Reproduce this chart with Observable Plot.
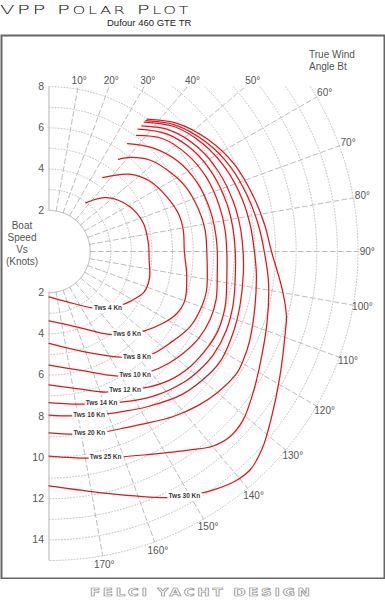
<!DOCTYPE html>
<html>
<head>
<meta charset="utf-8">
<script src="https://cdn.jsdelivr.net/npm/d3@7"></script>
<script src="https://cdn.jsdelivr.net/npm/@observablehq/plot@0.6"></script>
<style>
  html, body { margin: 0; padding: 0; background: #fff; }
  body { width: 385px; height: 600px; position: relative; overflow: hidden; font-family: "Liberation Sans", Arial, sans-serif; }
  #title { position: absolute; left: 0; top: 2px; font-family: "DejaVu Sans"; font-weight: 200; font-size: 12.5px; letter-spacing: 1.5px; color: #111; white-space: nowrap; transform-origin: 0 0; transform: scaleX(1.7); }
  #title .sc { font-size: 9.6px; }
  #sub { position: absolute; left: 107px; top: 17px; font-size: 9.5px; color: #222; white-space: nowrap; }
  #chart { position: absolute; left: 0; top: 34px; }
  #twa { position: absolute; left: 309px; top: 49px; font-size: 10px; line-height: 12px; color: #555; }
  #bs { position: absolute; left: 0; top: 220px; width: 44px; text-align: center; font-size: 10px; line-height: 12px; color: #555; }
  #foot { position: absolute; left: 90px; top: 586px; font-family: "DejaVu Sans"; font-weight: bold; font-size: 11px; letter-spacing: 2px; color: #fff; -webkit-text-stroke: 0.6px #888; white-space: nowrap; transform-origin: 0 0; transform: scaleX(1.35); }
</style>
</head>
<body>
<div id="title">VPP P<span class="sc">OLAR</span> P<span class="sc">LOT</span></div>
<div id="sub">Dufour 460 GTE TR</div>
<div id="chart"></div>
<div id="twa">True Wind<br>Angle Bt</div>
<div id="bs">Boat<br>Speed<br>Vs<br>(Knots)</div>
<div id="foot">FELCI YACHT DESIGN</div>
<script>
// ---- data: [true wind angle (deg), boat speed (kn)] per true wind speed ----
const tws4  = [[37,2.96],[47,3.83],[61,4.49],[73,4.78],[85,4.84],[95,4.88],[105,5.05],[113,5.02],[121,4.65],[127,4.35],[134,3.97],[142,3.48],[160,2.6],[180,2.2]];
const tws6  = [[36,4.43],[46,5.4],[55,5.96],[65,6.3],[74,6.55],[81,6.6],[90,6.57],[100,6.79],[110,7.01],[116,6.89],[122,6.55],[130,6.01],[137,5.51],[144,4.98],[160,3.89],[180,3.37]];
const tws8  = [[37,5.6],[41,6.05],[48,6.62],[57,7.04],[65,7.35],[74,7.54],[82,7.65],[90,7.66],[104,7.88],[110,7.88],[118,7.76],[127,7.37],[135,7.05],[140,6.67],[146,6.19],[161,5.14],[180,4.46]];
const tws10 = [[36,6.48],[45,7.12],[55,7.64],[65,7.93],[75,8.07],[83,8.13],[90,8.17],[97,8.23],[106,8.44],[113,8.49],[120,8.4],[127,8.18],[133,7.95],[140,7.62],[145,7.31],[152,6.84],[165,5.98],[180,5.52]];
const tws12 = [[37,7.06],[45,7.76],[55,8.2],[65,8.45],[75,8.56],[83,8.61],[90,8.63],[97,8.7],[107,8.95],[115,9.06],[121,9.0],[129,8.85],[137,8.55],[146,8.02],[151,7.67],[158,7.36],[167,6.86],[180,6.48]];
const tws14 = [[36,7.35],[45,8.08],[55,8.55],[65,8.8],[75,8.94],[83,9.0],[90,9.04],[96,9.1],[106,9.3],[114,9.42],[122,9.42],[128,9.3],[134,9.12],[143,8.72],[150,8.35],[155,8.07],[161,7.8],[167,7.6],[173,7.45],[180,7.34]];
const tws16 = [[36.5,7.58],[45,8.32],[55,8.82],[65,9.1],[75,9.27],[83,9.36],[90,9.42],[96,9.49],[106,9.64],[113,9.76],[122,9.88],[127,9.8],[137,9.48],[148,8.9],[155,8.56],[161,8.34],[166,8.17],[172,8.06],[180,7.94]];
const tws20 = [[36.3,7.8],[45,8.58],[55,9.12],[65,9.48],[75,9.72],[83,9.86],[90,9.97],[96,10.12],[105,10.35],[114,10.66],[119,10.8],[123,10.86],[130,10.66],[136,10.4],[143,10.03],[152,9.51],[158,9.28],[163,9.16],[167.5,9.04],[173,8.93],[180,8.8]];
const tws25 = [[36.5,7.9],[45,8.68],[55,9.28],[65,9.72],[75,10.02],[83,10.25],[90,10.45],[98,10.76],[108,11.13],[119,11.67],[125,12.07],[131,12.48],[135.7,12.57],[139.8,12.36],[144.6,11.82],[149.7,11.31],[155,10.9],[160.5,10.57],[164.6,10.36],[169.7,10.2],[180,9.93]];
const tws30 = [[36.5,8.0],[45,8.8],[55,9.45],[65,9.95],[75,10.28],[83,10.55],[90,10.8],[99,11.45],[105,11.93],[110,12.18],[118.5,12.75],[126.6,13.46],[133,14.12],[137.4,14.41],[141,14.35],[145.4,14.06],[148,13.84],[151,13.56],[154.4,13.25],[166.6,12.07],[180,11.38]];

const windSpeeds = [4, 6, 8, 10, 12, 14, 16, 20, 25, 30];
const seriesList = [tws4, tws6, tws8, tws10, tws12, tws14, tws16, tws20, tws25, tws30];

// label anchor on each curve: [angle, speed]
const labelAnchors = [[133.8,3.97],[136.6,5.51],[140.2,6.67],[145.1,7.31],[151.2,7.67],[160.9,7.8],[166.2,8.17],[167.5,9.04],[164.6,10.36],[151,13.56]];

const angleTicks = [10,20,30,40,50,60,70,80,90,100,110,120,130,140,150,160,170];
const speedTicksTop = [2,4,6,8];
const speedTicksBottom = [2,4,6,8,10,12,14];
const ringValues = [3,4,5,6,7,8,9,10,11,12,13,14,15];
const innerRing = 2;
const topLimit = 8;
const outerRadius = 15;

// ---- geometry helpers ----
const rad = Math.PI / 180;
const px = (a, r) => r * Math.sin(a * rad);
const py = (a, r) => r * Math.cos(a * rad);

const K = 20.6, CX = 48.5, CY = 217, W = 385, H = 545;

const curvePts = seriesList.flatMap((s, i) => s.map(([a, v]) => ({tws: windSpeeds[i], a, v})));
const labels = labelAnchors.map(([a, v], i) => ({tws: windSpeeds[i], a, v}));

const arcPts = (r, a0) => d3.range(181).map(i => ({r, a: a0 + (180 - a0) * i / 180}));
const ringPts = ringValues.flatMap(r => arcPts(r, r > topLimit ? Math.acos(topLimit / r) / rad : 0));
const innerPts = arcPts(innerRing, 0);
const radialPts = angleTicks.flatMap(a => {
  const rEnd = a < 90 ? Math.min(outerRadius, topLimit / Math.cos(a * rad)) : outerRadius;
  return [{a, r: innerRing}, {a, r: rEnd}];
});
const angleLabelPts = angleTicks.map(a => {
  const rTop = a < 90 ? (topLimit + 0.3) / Math.cos(a * rad) : Infinity;
  return {a, r: Math.min(rTop, outerRadius + 0.45)};
});
const tickPts = speedTicksTop.map(v => ({v, y: v})).concat(speedTicksBottom.map(v => ({v, y: -v})));

const chart = Plot.plot({
  width: W, height: H,
  marginTop: 0, marginRight: 0, marginBottom: 0, marginLeft: 0,
  style: {fontFamily: "Liberation Sans, Arial, sans-serif", background: "transparent"},
  x: {domain: [-CX / K, (W - CX) / K], axis: null},
  y: {domain: [-(H - CY) / K, CY / K], axis: null},
  marks: [
    Plot.line(ringPts, {x: d => px(d.a, d.r), y: d => py(d.a, d.r), z: "r", stroke: "#c4c4c4", strokeWidth: 1, strokeDasharray: "1,2"}),
    Plot.line(radialPts, {x: d => px(d.a, d.r), y: d => py(d.a, d.r), z: "a", stroke: "#bdbdbd", strokeWidth: 1, strokeDasharray: "5,3"}),
    Plot.line(innerPts, {x: d => px(d.a, d.r), y: d => py(d.a, d.r), stroke: "#b5b5b5", strokeWidth: 1}),
    Plot.link([{y1: innerRing, y2: topLimit}, {y1: -innerRing, y2: -outerRadius}], {x1: 0, x2: 0, y1: "y1", y2: "y2", stroke: "#b5b5b5", strokeWidth: 1}),
    Plot.line(curvePts, {x: d => px(d.a, d.v), y: d => py(d.a, d.v), z: "tws", stroke: "#e0161b", strokeWidth: 1.25, curve: "catmull-rom"}),
    Plot.text(labels, {x: d => px(d.a, d.v), y: d => py(d.a, d.v), text: d => `Tws ${d.tws} Kn`, fontSize: 6.5, fontWeight: "bold", fill: "#3a3a3a", stroke: "white", strokeWidth: 5, paintOrder: "stroke"}),
    Plot.text(tickPts, {x: 0, y: "y", text: d => String(d.v), dx: -5, textAnchor: "end", fontSize: 10.5, fill: "#555"}),
    Plot.text(angleLabelPts, {x: d => px(d.a, d.r), y: d => py(d.a, d.r), text: d => `${d.a}°`, fontSize: 10, fill: "#555"}),
    Plot.frame({stroke: "#666", strokeWidth: 2, inset: 1})
  ]
});
document.getElementById("chart").appendChild(chart);
</script>
</body>
</html>
